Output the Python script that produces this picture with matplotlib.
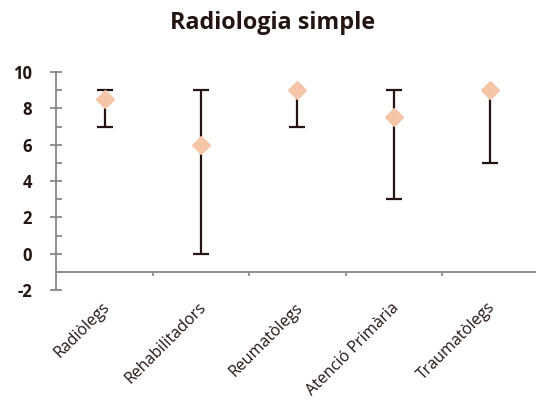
import matplotlib
matplotlib.use("Agg")
import matplotlib.pyplot as plt
import numpy as np

categories = ["Radiòlegs", "Rehabilitadors", "Reumatòlegs", "Atenció Primària", "Traumatòlegs"]
means = [8.5, 6, 9, 7.5, 9]
mins = [7, 0, 7, 3, 5]
maxs = [9, 9, 9, 9, 9]
yticks = [-2, 0, 2, 4, 6, 8, 10]

plt.rcParams['font.family'] = ['Open Sans', 'DejaVu Sans']
W, H = 536, 403
fig = plt.figure(figsize=(W/100, H/100), dpi=100)
x0, x1 = 56.3, 538.4
y_top, y_bot = 72, 290
ax = fig.add_axes([x0/W, 1 - y_bot/H, (x1-x0)/W, (y_bot-y_top)/H])
ax.set_xlim(-0.5, 4.5)
ax.set_ylim(-2, 10)

x = np.arange(len(categories))
means_a = np.array(means); mins_a = np.array(mins); maxs_a = np.array(maxs)
dark = '#231612'
ax.errorbar(x, means_a, yerr=[means_a - mins_a, maxs_a - means_a], fmt='none',
            ecolor=dark, elinewidth=1.6, capsize=5.5, capthick=1.6, zorder=2)
ax.plot(x, means_a, linestyle='none', marker='D', markersize=9,
        color='#F5C5A8', markeredgecolor='#F5C5A8', zorder=3)

grey = '#898989'
for s in ['top', 'right', 'bottom']:
    ax.spines[s].set_visible(False)
ax.spines['left'].set_color(grey)
ax.spines['left'].set_linewidth(1.3)
ax.axhline(-1, color=grey, linewidth=1.3, zorder=1, clip_on=False)

ax.set_yticks(yticks)
ax.set_yticklabels([str(v) for v in yticks], fontweight='bold', fontsize=12, color=dark)
ax.set_yticks(np.arange(-1, 10, 2), minor=True)
ax.tick_params(axis='y', which='major', direction='inout', length=8.6, width=1.3, color=grey, pad=13)
ax.tick_params(axis='y', which='minor', direction='in', length=4, width=1.3, color=grey)

ax.set_xticks([])
for b in np.arange(0.5, 4.0, 1.0):
    ax.plot([b, b], [-1, -1.2], color=grey, linewidth=1.3, clip_on=False)

for xi, lab in zip(x, categories):
    ax.annotate(lab, xy=(xi, -1), xytext=(-2, -20), textcoords='offset points',
                rotation=45, ha='right', va='top', rotation_mode='anchor',
                fontsize=11.5, color=dark, annotation_clip=False)

fig.text(273/W, 1 - 23/H, "Radiologia simple", ha='center', va='center',
         fontsize=16.8, fontweight='bold', color=dark)

fig.savefig("out.png", dpi=100)
